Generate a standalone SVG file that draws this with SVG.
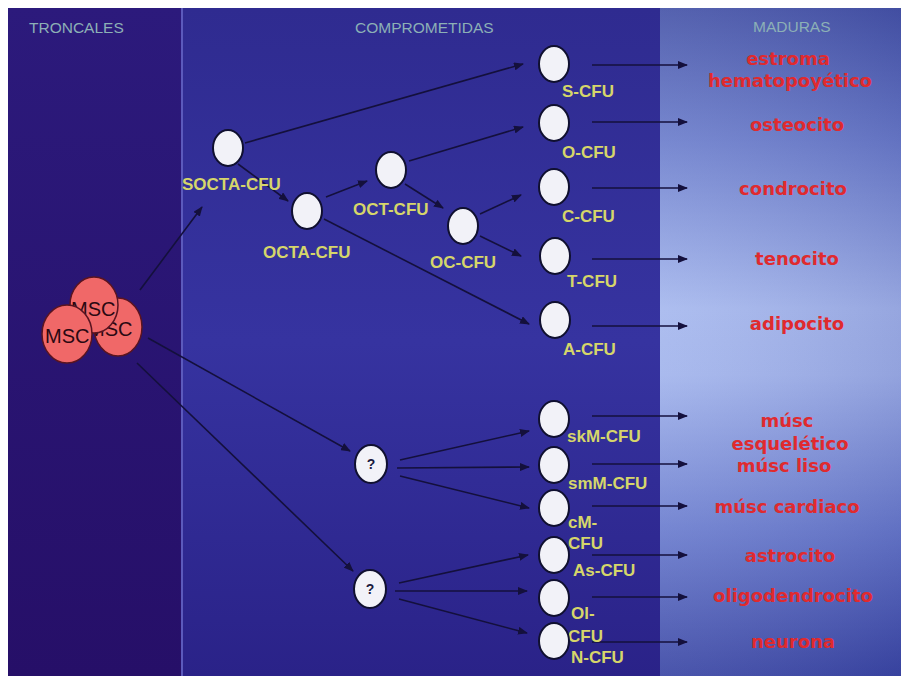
<svg xmlns="http://www.w3.org/2000/svg" width="901" height="676" viewBox="0 0 901 676">
<defs>
<linearGradient id="p1" x1="0" y1="0" x2="0" y2="1">
<stop offset="0" stop-color="#2c1a7c"/>
<stop offset="1" stop-color="#260f68"/>
</linearGradient>
<linearGradient id="p2" x1="0" y1="0" x2="0" y2="1">
<stop offset="0" stop-color="#2f2b90"/>
<stop offset="0.5" stop-color="#3633a0"/>
<stop offset="1" stop-color="#2a2288"/>
</linearGradient>
<linearGradient id="p3" x1="0" y1="0" x2="0" y2="1">
<stop offset="0" stop-color="#4654a8"/>
<stop offset="0.2" stop-color="#6c7ecc"/>
<stop offset="0.45" stop-color="#a6b8ee"/>
<stop offset="0.55" stop-color="#a2b4ec"/>
<stop offset="0.78" stop-color="#6a7cce"/>
<stop offset="1" stop-color="#3a46a4"/>
</linearGradient>
<linearGradient id="p3h" x1="0" y1="0" x2="1" y2="0">
<stop offset="0" stop-color="#ffffff" stop-opacity="0.08"/>
<stop offset="1" stop-color="#202070" stop-opacity="0.12"/>
</linearGradient>
<marker id="ah" markerUnits="userSpaceOnUse" markerWidth="10" markerHeight="8" refX="9" refY="4" orient="auto">
<path d="M0,0 L10,4 L0,8 z" fill="#14103c"/>
</marker>
<style>
.hdr{font-family:"Liberation Sans",Arial,sans-serif;font-size:15.5px;fill:#8cb0b6}
.lbl{font-family:"Liberation Sans",Arial,sans-serif;font-size:17px;font-weight:bold;fill:#d6d66a}
.mat{font-family:"DejaVu Sans",Verdana,sans-serif;font-size:18px;font-weight:bold;fill:#e02a2e;text-anchor:middle}
.cell{fill:#f2f2f8;stroke:#101030;stroke-width:2}
.msc{fill:#f06868;stroke:#5a1420;stroke-width:1.5}
.msct{font-family:"Liberation Sans",Arial,sans-serif;font-size:20px;fill:#2a0812}
.q{font-family:"Liberation Sans",Arial,sans-serif;font-size:14px;font-weight:bold;fill:#1a1a40;text-anchor:middle}
.con line{stroke:#14103c;stroke-width:1.6;marker-end:url(#ah)}
</style>
</defs>
<rect x="0" y="0" width="901" height="676" fill="#ffffff"/>
<rect x="8" y="8" width="173" height="668" fill="url(#p1)"/>
<rect x="181" y="8" width="2" height="668" fill="#5c5abc"/>
<rect x="183" y="8" width="477" height="668" fill="url(#p2)"/>
<rect x="660" y="8" width="241" height="668" fill="url(#p3)"/>
<rect x="660" y="8" width="241" height="668" fill="url(#p3h)"/>

<text class="hdr" x="29" y="33">TRONCALES</text>
<text class="hdr" x="355" y="33">COMPROMETIDAS</text>
<text class="hdr" x="753" y="32">MADURAS</text>

<g class="con" id="connectors">
<line x1="140" y1="290" x2="202" y2="207"/>
<line x1="245" y1="143" x2="523" y2="64"/>
<line x1="238" y1="164" x2="288" y2="201"/>
<line x1="326" y1="197" x2="367" y2="181"/>
<line x1="409" y1="161" x2="523" y2="127"/>
<line x1="405" y1="184" x2="443" y2="208"/>
<line x1="480" y1="214" x2="521" y2="195"/>
<line x1="480" y1="236" x2="521" y2="256"/>
<line x1="324" y1="219" x2="529" y2="324"/>
<line x1="148" y1="338" x2="350" y2="451"/>
<line x1="137" y1="363" x2="353" y2="571"/>
<line x1="400" y1="460" x2="529" y2="431"/>
<line x1="397" y1="468" x2="529" y2="467"/>
<line x1="400" y1="476" x2="529" y2="508"/>
<line x1="399" y1="583" x2="528" y2="555"/>
<line x1="395" y1="591" x2="527" y2="591"/>
<line x1="399" y1="599" x2="527" y2="633"/>
<line x1="592" y1="65" x2="687" y2="65"/>
<line x1="592" y1="122" x2="687" y2="122"/>
<line x1="592" y1="188" x2="687" y2="188"/>
<line x1="592" y1="259" x2="687" y2="259"/>
<line x1="592" y1="326" x2="687" y2="326"/>
<line x1="592" y1="416" x2="687" y2="416"/>
<line x1="592" y1="464" x2="687" y2="464"/>
<line x1="592" y1="506" x2="687" y2="506"/>
<line x1="592" y1="555" x2="687" y2="555"/>
<line x1="592" y1="597" x2="687" y2="597"/>
<line x1="592" y1="642" x2="687" y2="642"/>
</g>

<g id="msc-right"><ellipse class="msc" cx="118" cy="327" rx="24" ry="29"/><text class="msct" x="88" y="336">MSC</text></g>
<g id="msc-top"><ellipse class="msc" cx="94" cy="305" rx="24" ry="28"/><text class="msct" x="71" y="316">MSC</text></g>
<g id="msc-left"><ellipse class="msc" cx="67" cy="334" rx="25" ry="29"/><text class="msct" x="45" y="343">MSC</text></g>

<g id="socta"><ellipse class="cell" cx="228" cy="148" rx="15" ry="18"/><text class="lbl" x="182" y="190">SOCTA-CFU</text></g>
<g id="octa"><ellipse class="cell" cx="307" cy="211" rx="15" ry="18"/><text class="lbl" x="263" y="258">OCTA-CFU</text></g>
<g id="oct"><ellipse class="cell" cx="391" cy="170" rx="15" ry="18"/><text class="lbl" x="353" y="215">OCT-CFU</text></g>
<g id="oc"><ellipse class="cell" cx="463" cy="226" rx="15" ry="18"/><text class="lbl" x="430" y="268">OC-CFU</text></g>

<g id="s-cfu"><ellipse class="cell" cx="554" cy="64" rx="15" ry="18"/><text class="lbl" x="562" y="97">S-CFU</text></g>
<g id="o-cfu"><ellipse class="cell" cx="554" cy="123" rx="15" ry="18"/><text class="lbl" x="562" y="158">O-CFU</text></g>
<g id="c-cfu"><ellipse class="cell" cx="554" cy="187" rx="15" ry="18"/><text class="lbl" x="562" y="222">C-CFU</text></g>
<g id="t-cfu"><ellipse class="cell" cx="555" cy="256" rx="15" ry="18"/><text class="lbl" x="567" y="287">T-CFU</text></g>
<g id="a-cfu"><ellipse class="cell" cx="555" cy="320" rx="15" ry="18"/><text class="lbl" x="563" y="355">A-CFU</text></g>

<g id="q1"><ellipse class="cell" cx="371" cy="464" rx="16" ry="19"/><text class="q" x="371" y="469">?</text></g>
<g id="q2"><ellipse class="cell" cx="370" cy="589" rx="16" ry="19"/><text class="q" x="370" y="594">?</text></g>

<g id="skm-cfu"><ellipse class="cell" cx="554" cy="419" rx="15" ry="18"/><text class="lbl" x="567" y="442">skM-CFU</text></g>
<g id="smm-cfu"><ellipse class="cell" cx="554" cy="465" rx="15" ry="18"/><text class="lbl" x="568" y="489">smM-CFU</text></g>
<g id="cm-cfu"><ellipse class="cell" cx="554" cy="508" rx="15" ry="18"/><text class="lbl" x="568" y="528">cM-</text><text class="lbl" x="568" y="549">CFU</text></g>
<g id="as-cfu"><ellipse class="cell" cx="554" cy="555" rx="15" ry="18"/><text class="lbl" x="573" y="576">As-CFU</text></g>
<g id="ol-cfu"><ellipse class="cell" cx="554" cy="598" rx="15" ry="18"/><text class="lbl" x="571" y="619">Ol-</text><text class="lbl" x="568" y="642">CFU</text></g>
<g id="n-cfu"><ellipse class="cell" cx="554" cy="641" rx="15" ry="18"/><text class="lbl" x="571" y="663">N-CFU</text></g>

<g id="mature">
<text class="mat" x="788" y="65">estroma</text>
<text class="mat" x="790" y="87">hematopoyético</text>
<text class="mat" x="797" y="131">osteocito</text>
<text class="mat" x="793" y="195">condrocito</text>
<text class="mat" x="797" y="265">tenocito</text>
<text class="mat" x="797" y="330">adipocito</text>
<text class="mat" x="787" y="427">músc</text>
<text class="mat" x="790" y="450">esquelético</text>
<text class="mat" x="784" y="472">músc liso</text>
<text class="mat" x="787" y="513">músc cardiaco</text>
<text class="mat" x="790" y="562">astrocito</text>
<text class="mat" x="793" y="602">oligodendrocito</text>
<text class="mat" x="793" y="648">neurona</text>
</g>
</svg>
